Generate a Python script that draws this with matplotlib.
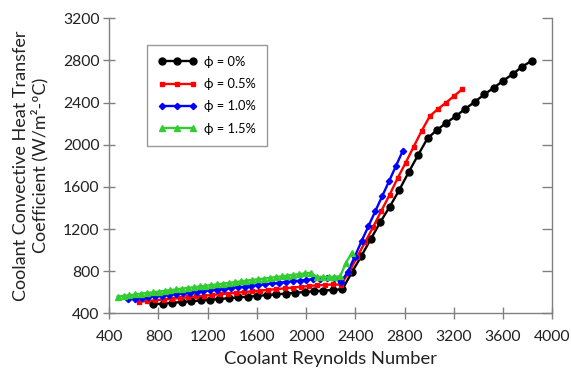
import matplotlib
matplotlib.use("Agg")
import matplotlib.pyplot as plt

plt.rcParams["font.family"] = ["Lato", "DejaVu Sans"]

# Coolant Reynolds number / heat transfer coefficient
re_0 = [757, 834, 911, 988, 1065, 1142, 1218, 1295, 1372, 1449, 1526, 1603, 1680, 1757,
        1834, 1911, 1987, 2064, 2141, 2218, 2295, 2372, 2449, 2526, 2603, 2680, 2757, 2833,
        2910, 2987, 3064, 3141, 3218, 3295, 3372, 3449, 3526, 3602, 3679, 3756, 3833]
h_0 = [485, 492, 500, 507, 514, 522, 529, 536, 543, 551, 558, 565, 573, 580,
       587, 595, 602, 609, 616, 622, 628, 789, 944, 1105, 1266, 1412, 1570, 1738,
       1902, 2061, 2140, 2209, 2272, 2342, 2408, 2478, 2541, 2607, 2671, 2740, 2797]

re_05 = [644, 710, 775, 841, 906, 972, 1038, 1103, 1169, 1234, 1300, 1366, 1431, 1497,
         1562, 1628, 1694, 1759, 1825, 1890, 1956, 2022, 2087, 2153, 2218, 2284, 2350, 2415,
         2481, 2546, 2612, 2678, 2743, 2809, 2874, 2940, 3006, 3071, 3137, 3202, 3268]
h_05 = [510, 517, 524, 531, 538, 545, 552, 560, 567, 574, 581, 588, 595, 602,
        609, 616, 623, 630, 637, 644, 651, 659, 666, 670, 674, 672, 795, 937,
        1079, 1222, 1374, 1523, 1681, 1829, 1981, 2133, 2272, 2339, 2399, 2462, 2526]

re_10 = [550, 606, 662, 718, 774, 830, 885, 941, 997, 1053, 1109, 1165, 1221, 1277,
         1333, 1389, 1444, 1500, 1556, 1612, 1668, 1724, 1780, 1836, 1892, 1948, 2003, 2059,
         2115, 2171, 2227, 2283, 2339, 2395, 2451, 2507, 2563, 2619, 2675, 2730, 2786]
h_10 = [533, 540, 547, 554, 561, 568, 576, 583, 590, 597, 604, 611, 618, 626,
        633, 640, 647, 654, 661, 668, 675, 683, 690, 697, 704, 711, 718, 725,
        730, 732, 735, 695, 795, 937, 1086, 1228, 1371, 1513, 1656, 1798, 1943]

re_15 = [468, 516, 563, 611, 658, 706, 754, 801, 849, 896, 944, 992, 1039, 1087,
         1134, 1182, 1230, 1277, 1325, 1372, 1420, 1468, 1515, 1563, 1610, 1658, 1706, 1753,
         1801, 1848, 1896, 1944, 1991, 2039, 2086, 2134, 2182, 2229, 2277, 2324, 2372]
h_15 = [558, 565, 572, 579, 586, 593, 599, 606, 613, 620, 627, 634, 641, 648,
        655, 662, 668, 675, 682, 689, 696, 703, 710, 717, 724, 730, 737, 744,
        751, 758, 765, 772, 779, 785, 745, 745, 746, 746, 752, 880, 975]

labels = ["\u03d5 = 0%", "\u03d5 = 0.5%", "\u03d5 = 1.0%", "\u03d5 = 1.5%"]
yticks = list(range(400, 3201, 400))
xticks = list(range(400, 4001, 400))

fig = plt.figure(figsize=(5.71, 3.75), dpi=100)
ax = fig.add_axes([0.1914, 0.1645, 0.7756, 0.7867])

ax.plot(re_0, h_0, color="black", marker="o", markersize=5, lw=1.7, label=labels[0], zorder=2)
ax.plot(re_05, h_05, color="#ff0000", marker="s", markersize=3.4, lw=1.7, label=labels[1], zorder=3)
ax.plot(re_10, h_10, color="#0000ff", marker="D", markersize=3.2, lw=1.7, label=labels[2], zorder=4)
ax.plot(re_15, h_15, color="#33cc33", marker="^", markersize=4.3, lw=1.7, label=labels[3], zorder=5)

ax.set_xlim(400, 4000)
ax.set_ylim(400, 3200)
ax.set_xticks(xticks)
ax.set_yticks(yticks)

for side in ["left", "bottom"]:
    ax.spines[side].set_color("#808080")
    ax.spines[side].set_linewidth(1.0)
ax.spines["top"].set_visible(False)
ax.spines["right"].set_visible(False)

ax.tick_params(axis="both", direction="inout", length=8, width=1, color="#808080",
               labelsize=11.3, labelcolor="#222222")
ax.tick_params(axis="x", pad=8)
ax.tick_params(axis="y", pad=3)

# right axis: inward ticks only, no labels
sec = ax.secondary_yaxis("right")
sec.set_yticks(yticks)
sec.tick_params(direction="in", length=7, width=1, color="#808080", labelright=False)
sec.spines["right"].set_color("#808080")
sec.spines["right"].set_linewidth(1.0)

ax.set_xlabel("Coolant Reynolds Number", fontsize=13.2, color="#222222", labelpad=5)
ax.set_ylabel("Coolant Convective Heat Transfer\nCoefficient (W/m\u00b2-\u00baC)",
              fontsize=13, color="#222222", linespacing=1.1)
ax.yaxis.set_label_coords(-0.138, 0.5)

leg = ax.legend(loc="upper left", bbox_to_anchor=(0.085, 0.91), borderaxespad=0,
                fontsize=9.3, numpoints=3, handlelength=3.0, frameon=True, fancybox=False,
                borderpad=0.85, labelspacing=0.8, handletextpad=0.6)
leg.get_frame().set_edgecolor("#808080")
leg.get_frame().set_linewidth(1.0)

fig.savefig("out.png", dpi=100)
